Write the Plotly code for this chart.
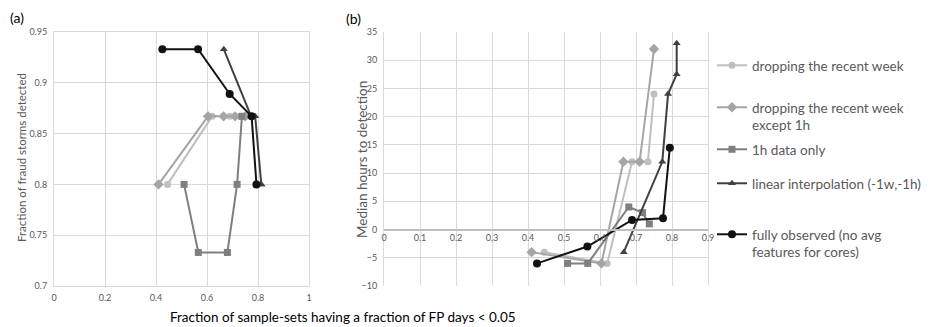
import plotly.graph_objects as go

# ---------------- data ----------------
series_names = [
    "dropping the recent week",
    "dropping the recent week<br>except 1h",
    "1h data only",
    "linear interpolation (-1w,-1h)",
    "fully observed (no avg<br>features for cores)",
]
x_drop_week = [0.445, 0.62, 0.689, 0.733, 0.75]
x_drop_except_1h = [0.41, 0.604, 0.665, 0.71, 0.75]
x_1h_only = [0.51, 0.566, 0.68, 0.718, 0.737]
x_lin_interp = [0.666, 0.773, 0.789, 0.813, 0.813]
x_fully_obs = [0.425, 0.565, 0.689, 0.775, 0.794]

# panel (a): fraction of fraud storms detected
a_drop_week = [0.8, 0.867, 0.867, 0.867, 0.867]
a_drop_except_1h = [0.8, 0.867, 0.867, 0.867, 0.867]
a_1h_only = [0.8, 0.733, 0.733, 0.8, 0.867]
a_lin_interp = [0.933, 0.867, 0.867, 0.8, 0.8]
a_fully_obs = [0.933, 0.933, 0.889, 0.867, 0.8]

# panel (b): median hours to detection
b_drop_week = [-4, -6, 12, 12, 24]
b_drop_except_1h = [-4, -6, 12, 12, 32]
b_1h_only = [-6, -6, 4, 3, 1]
b_lin_interp = [-4, 12, 24, 27.5, 33]
b_fully_obs = [-6, -3, 1.7, 2, 14.5]

a_range = [0.7, 0.95]
a_xrange = [0, 1]
b_range = [-10, 35]
b_xrange = [0, 0.9]

# ---------------- style ----------------
colors = ["#BFBFBF", "#A5A5A5", "#7F7F7F", "#404040", "#111111"]
symbols = ["circle", "diamond", "square", "triangle-up", "circle"]
msizes = [7, 8, 7, 7, 8]
FONT = "Lato"
TICKC = "#595959"
GRID = "#D9D9D9"

xs = [x_drop_week, x_drop_except_1h, x_1h_only, x_lin_interp, x_fully_obs]
ays = [a_drop_week, a_drop_except_1h, a_1h_only, a_lin_interp, a_fully_obs]
bys = [b_drop_week, b_drop_except_1h, b_1h_only, b_lin_interp, b_fully_obs]

fig = go.Figure()
legend_keys = ["legend", "legend2", "legend3", "legend4", "legend5"]
for i in range(5):
    fig.add_trace(go.Scatter(
        x=xs[i], y=ays[i], mode="lines+markers", name=series_names[i],
        line=dict(color=colors[i], width=2),
        marker=dict(symbol=symbols[i], size=msizes[i], color=colors[i]),
        xaxis="x", yaxis="y", showlegend=False))
for i in range(5):
    fig.add_trace(go.Scatter(
        x=xs[i], y=bys[i], mode="lines+markers", name=series_names[i],
        line=dict(color=colors[i], width=2),
        marker=dict(symbol=symbols[i], size=msizes[i], color=colors[i]),
        xaxis="x2", yaxis="y2", showlegend=True, legend=legend_keys[i]))

# page has an 8px body margin; work in page pixels and convert
OFF = 8
W, H = 929 - OFF, 327 - OFF
TOP_PX, BOT_PX = 32, 286          # plot area top/bottom in page pixels
T = TOP_PX - OFF
B = H - (BOT_PX - OFF)
plot_h = H - T - B

def px_x(p):
    return (p - OFF) / W

def px_y(p):
    return (BOT_PX - p) / plot_h

tickfont = dict(family=FONT, size=9, color=TICKC)

zero_pos = (0 - b_range[0]) / (b_range[1] - b_range[0])

fig.update_layout(
    width=W, height=H,
    margin=dict(l=0, r=0, t=T, b=B),
    paper_bgcolor="white", plot_bgcolor="white",
    font=dict(family=FONT, color=TICKC),
    xaxis=dict(domain=[px_x(54), px_x(309)], range=a_xrange, dtick=0.2, tick0=0,
               showgrid=True, gridcolor=GRID, gridwidth=1, zeroline=False,
               showline=True, linecolor=GRID, mirror=True, ticks="",
               tickfont=tickfont, automargin=False, anchor="y", ticklabelstandoff=3),
    yaxis=dict(domain=[0, 1], range=a_range, dtick=0.05, tick0=0.7,
               showgrid=True, gridcolor=GRID, zeroline=False,
               showline=True, linecolor=GRID, mirror=True, ticks="",
               tickfont=tickfont, automargin=False, anchor="x", ticklabelstandoff=4),
    xaxis2=dict(domain=[px_x(384), px_x(708)], range=b_xrange, dtick=0.1, tick0=0,
                showgrid=True, gridcolor=GRID, zeroline=False,
                showline=True, linecolor="#BFBFBF", linewidth=1.5, ticks="",
                tickfont=tickfont, automargin=False, anchor="free", position=zero_pos),
    yaxis2=dict(domain=[0, 1], range=b_range, dtick=5, tick0=-10,
                showgrid=True, gridcolor=GRID, zeroline=False,
                showline=True, linecolor=GRID, mirror=True, ticks="",
                tickfont=tickfont, automargin=False, anchor="x2", ticklabelstandoff=4),
)

leg_centers = [65, 107, 149, 183, 234]
for i, key in enumerate(legend_keys):
    fig.update_layout(**{key: dict(
        x=px_x(712), y=px_y(leg_centers[i] - 15), xanchor="left", yanchor="top",
        font=dict(family=FONT, size=13.5, color=TICKC), bgcolor="rgba(0,0,0,0)",
        borderwidth=0, itemwidth=30, valign="top", tracegroupgap=0)})

ann = []
ann.append(dict(text="(a)", x=px_x(8), y=px_y(17), xref="paper", yref="paper",
                xanchor="left", yanchor="middle", showarrow=False,
                font=dict(family=FONT, size=14, color="#000000")))
ann.append(dict(text="(b)", x=px_x(344), y=px_y(18), xref="paper", yref="paper",
                xanchor="left", yanchor="middle", showarrow=False,
                font=dict(family=FONT, size=14, color="#000000")))
ann.append(dict(text="Fraction of fraud storms detected", x=px_x(21), y=px_y(158),
                xref="paper", yref="paper", xanchor="center", yanchor="middle",
                textangle=-90, showarrow=False,
                font=dict(family=FONT, size=11.5, color=TICKC)))
ann.append(dict(text="Median hours to detection", x=px_x(362), y=px_y(160),
                xref="paper", yref="paper", xanchor="center", yanchor="middle",
                textangle=-90, showarrow=False,
                font=dict(family=FONT, size=13.5, color=TICKC)))
ann.append(dict(text="Fraction of sample-sets having a fraction of FP days < 0.05",
                x=px_x(343), y=px_y(317), xref="paper", yref="paper",
                xanchor="center", yanchor="middle", showarrow=False,
                font=dict(family=FONT, size=13.5, color="#000000")))
fig.update_layout(annotations=ann)

fig.write_html("out.html")
